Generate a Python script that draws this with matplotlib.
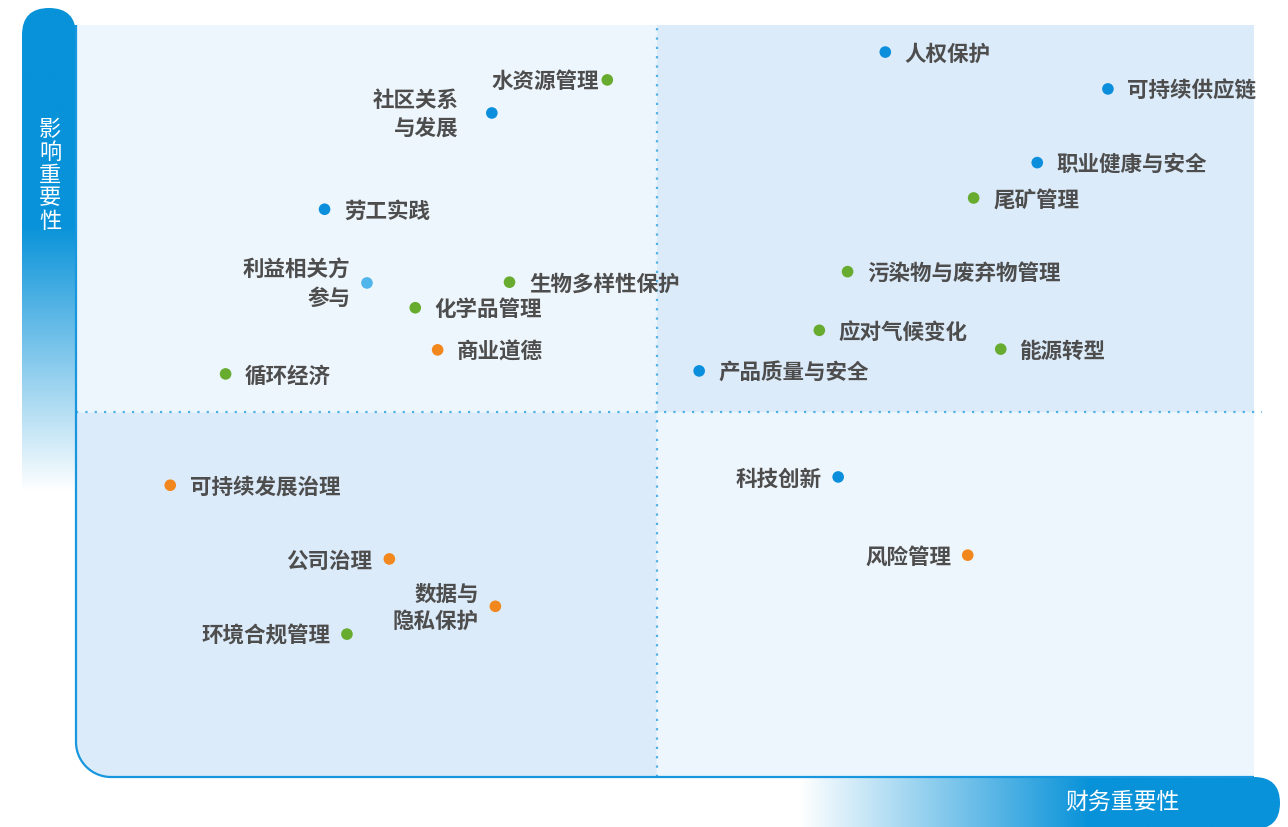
import numpy as np
import matplotlib
matplotlib.use("Agg")
import matplotlib.pyplot as plt
from matplotlib.patches import Rectangle, PathPatch, FancyBboxPatch
from matplotlib.path import Path

plt.rcParams['font.family'] = ['Noto Sans CJK SC', 'DejaVu Sans']

# ---------------- data ----------------
topics = ["人权保护", "可持续供应链", "职业健康与安全", "尾矿管理", "污染物与废弃物管理",
          "应对气候变化", "能源转型", "产品质量与安全", "科技创新", "风险管理",
          "水资源管理", "社区关系\n与发展", "劳工实践", "利益相关方\n参与", "生物多样性保护",
          "化学品管理", "商业道德", "循环经济", "可持续发展治理", "公司治理",
          "数据与\n隐私保护", "环境合规管理"]
financial = [68.7, 87.6, 81.6, 76.2, 65.5, 63.1, 78.5, 52.9, 64.7, 75.7,
             45.1, 35.3, 21.1, 24.7, 36.8, 28.8, 30.7, 12.7, 8.0, 26.6, 35.6, 23.0]
impact = [96.4, 91.5, 81.7, 77.0, 67.2, 59.4, 56.9, 54.0, 39.9, 29.5,
          92.7, 88.3, 75.5, 65.7, 65.8, 62.4, 56.8, 53.6, 38.8, 29.0, 22.7, 19.0]
category = ["social", "social", "social", "env", "env", "env", "env", "social", "social", "gov",
            "env", "social", "social", "stake", "env", "env", "gov", "env", "gov", "gov", "gov", "env"]
label_side = ["r", "r", "r", "r", "r", "r", "r", "r", "l", "l",
              "l", "l", "r", "l", "r", "r", "r", "r", "r", "l", "l", "l"]
x_split = 49.3
y_split = 48.5
x_title = "财务重要性"
y_title = "影响重要性"

colors = {"social": "#0b8fdc", "env": "#67ab2f", "gov": "#f2871d", "stake": "#4fb5ea"}

W, H = 1288, 827
fig = plt.figure(figsize=(W / 100, H / 100), dpi=100)

# background axes in pixel coordinates for decorations
bg = fig.add_axes([0, 0, 1, 1])
bg.set_xlim(0, W)
bg.set_ylim(H, 0)
bg.axis('off')

blue = np.array(matplotlib.colors.to_rgb("#0892d9"))
white = np.ones(3)

# left vertical gradient bar
ys = np.linspace(0, 1, 400)
py = 8 + ys * (500 - 8)
t = np.clip((492 - py) / (492 - 225), 0, 1)
grad = (white[None, :] * (1 - t[:, None]) + blue[None, :] * t[:, None])
grad = np.repeat(grad[:, None, :], 2, axis=1)
im = bg.imshow(grad, extent=(22, 76, 500, 8), aspect='auto', zorder=1, interpolation='bilinear')
clip1 = FancyBboxPatch((22, 8), 54, 600, boxstyle="round,pad=0,rounding_size=27",
                       transform=bg.transData, facecolor='none', edgecolor='none')
bg.add_patch(clip1)
im.set_clip_path(clip1)

# bottom horizontal gradient bar
xs = np.linspace(0, 1, 400)
px = 795 + xs * (1280 - 795)
t2 = np.clip((px - 800) / (1090 - 800), 0, 1)
grad2 = (white[None, :] * (1 - t2[:, None]) + blue[None, :] * t2[:, None])
grad2 = np.repeat(grad2[None, :, :], 2, axis=0)
im2 = bg.imshow(grad2, extent=(795, 1280, 830, 777), aspect='auto', zorder=1, interpolation='bilinear')
clip2 = FancyBboxPatch((700, 777), 580, 52, boxstyle="round,pad=0,rounding_size=26",
                       transform=bg.transData, facecolor='none', edgecolor='none')
bg.add_patch(clip2)
im2.set_clip_path(clip2)

bg.text(1122, 802, x_title, color='white', fontsize=16.5, ha='center', va='center', zorder=3)
bg.text(50, 175, "\n".join(y_title), color='white', fontsize=16, ha='center', va='center',
        linespacing=1.0, zorder=3)

# data axes
x0p, x1p, y0p, y1p = 76, 1254, 25, 777
ax = fig.add_axes([x0p / W, (H - y1p) / H, (x1p - x0p) / W, (y1p - y0p) / H])
ax.set_xlim(0, 100)
ax.set_ylim(0, 100)
ax.axis('off')
ax.patch.set_alpha(0)

light = "#eef6fd"
dark = "#dcebf9"
ax.add_patch(Rectangle((0, y_split), x_split, 100 - y_split, facecolor=light, edgecolor='none', zorder=0))
ax.add_patch(Rectangle((x_split, y_split), 100 - x_split, 100 - y_split, facecolor=dark, edgecolor='none', zorder=0))
ax.add_patch(Rectangle((x_split, 0), 100 - x_split, y_split, facecolor=light, edgecolor='none', zorder=0))

# bottom-left quadrant with rounded corner
rx = 35 / (x1p - x0p) * 100
ry = 35 / (y1p - y0p) * 100
th = np.linspace(np.pi, 1.5 * np.pi, 30)
arc = np.column_stack([rx + rx * np.cos(th), ry + ry * np.sin(th)])
verts = np.vstack([[0, y_split], arc, [x_split, 0], [x_split, y_split], [0, y_split]])
ax.add_patch(PathPatch(Path(verts), facecolor=dark, edgecolor='none', zorder=0))

# axis line (left + rounded corner + bottom)
line_pts = np.vstack([[0, 100], arc, [100, 0]])
ax.plot(line_pts[:, 0], line_pts[:, 1], color="#1897de", lw=1.6, zorder=2,
        solid_capstyle='butt', clip_on=False)

# dotted dividers
ax.plot([x_split, x_split], [0, 100], color="#4fb0e6", lw=1.6, ls=(0, (1, 3.2)), zorder=1)
ax.plot([0, 100.7], [y_split, y_split], color="#4fb0e6", lw=1.6, ls=(0, (1, 3.2)), zorder=1,
        clip_on=False)

# points
ax.scatter(financial, impact, s=70, c=[colors[c] for c in category], edgecolors='none', zorder=4)

special_offset = {"社区关系\n与发展": -24, "水资源管理": -6}
for name, fx, iy, side in zip(topics, financial, impact, label_side):
    dy = -1.5 if "\n" not in name else -1.0
    if side == "r":
        ax.annotate(name, (fx, iy), xytext=(14, dy), textcoords='offset points',
                    ha='left', va='center', fontsize=15.5, color="#4d4d4d", fontweight='bold',
                    linespacing=1.38, zorder=5)
    else:
        dx = special_offset.get(name, -12)
        ax.annotate(name, (fx, iy), xytext=(dx, dy), textcoords='offset points',
                    ha='right', va='center', fontsize=15.5, color="#4d4d4d", fontweight='bold',
                    linespacing=1.38, multialignment='right', zorder=5)

fig.savefig("out.png", dpi=100)
